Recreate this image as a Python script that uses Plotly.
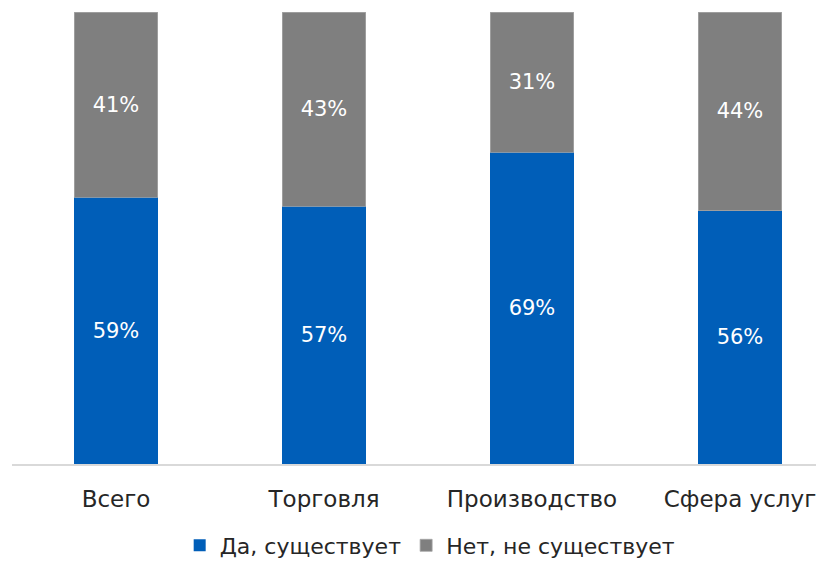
import plotly.graph_objects as go

categories = ["Всего", "Торговля", "Производство", "Сфера услуг"]
yes_values = [59, 57, 69, 56]
no_values = [41, 43, 31, 44]
series_names = ["Да, существует", "Нет, не существует"]

FONT = "DejaVu Sans"

fig = go.Figure()

fig.add_trace(go.Bar(
    x=categories,
    y=yes_values,
    name=series_names[0],
    marker=dict(color="#005EB8", line=dict(width=0)),
    text=[f"{v}%" for v in yes_values],
    textposition="inside",
    insidetextanchor="middle",
    textfont=dict(color="white", size=21, family=FONT),
    width=0.4,
))

fig.add_trace(go.Bar(
    x=categories,
    y=no_values,
    name=series_names[1],
    marker=dict(color="#7F7F7F", line=dict(color="#A6A6A6", width=0.8)),
    text=[f"{v}%" for v in no_values],
    textposition="inside",
    insidetextanchor="middle",
    textfont=dict(color="white", size=21, family=FONT),
    width=0.4,
))

# the page body has an 8px margin, so the figure is 8px smaller
fig.update_layout(
    barmode="stack",
    width=816,
    height=553,
    margin=dict(l=4, r=0, t=4, b=97),
    paper_bgcolor="white",
    plot_bgcolor="white",
    font=dict(family=FONT, size=22, color="#262626"),
    uniformtext=dict(mode="show", minsize=10),
    xaxis=dict(
        range=[-0.5, 3.404],
        showgrid=False,
        showline=True,
        linecolor="#D9D9D9",
        linewidth=1.5,
        ticks="outside",
        ticklen=14,
        tickcolor="rgba(0,0,0,0)",
        tickfont=dict(size=23, color="#262626"),
    ),
    yaxis=dict(
        range=[0, 100],
        showgrid=False,
        showticklabels=False,
        zeroline=False,
    ),
    legend=dict(
        orientation="h",
        x=0.515,
        xanchor="center",
        xref="paper",
        y=0.028,
        yref="container",
        yanchor="middle",
        itemwidth=30,
        font=dict(size=22, color="#262626"),
        traceorder="normal",
    ),
    showlegend=True,
)

fig.write_html("out.html")
